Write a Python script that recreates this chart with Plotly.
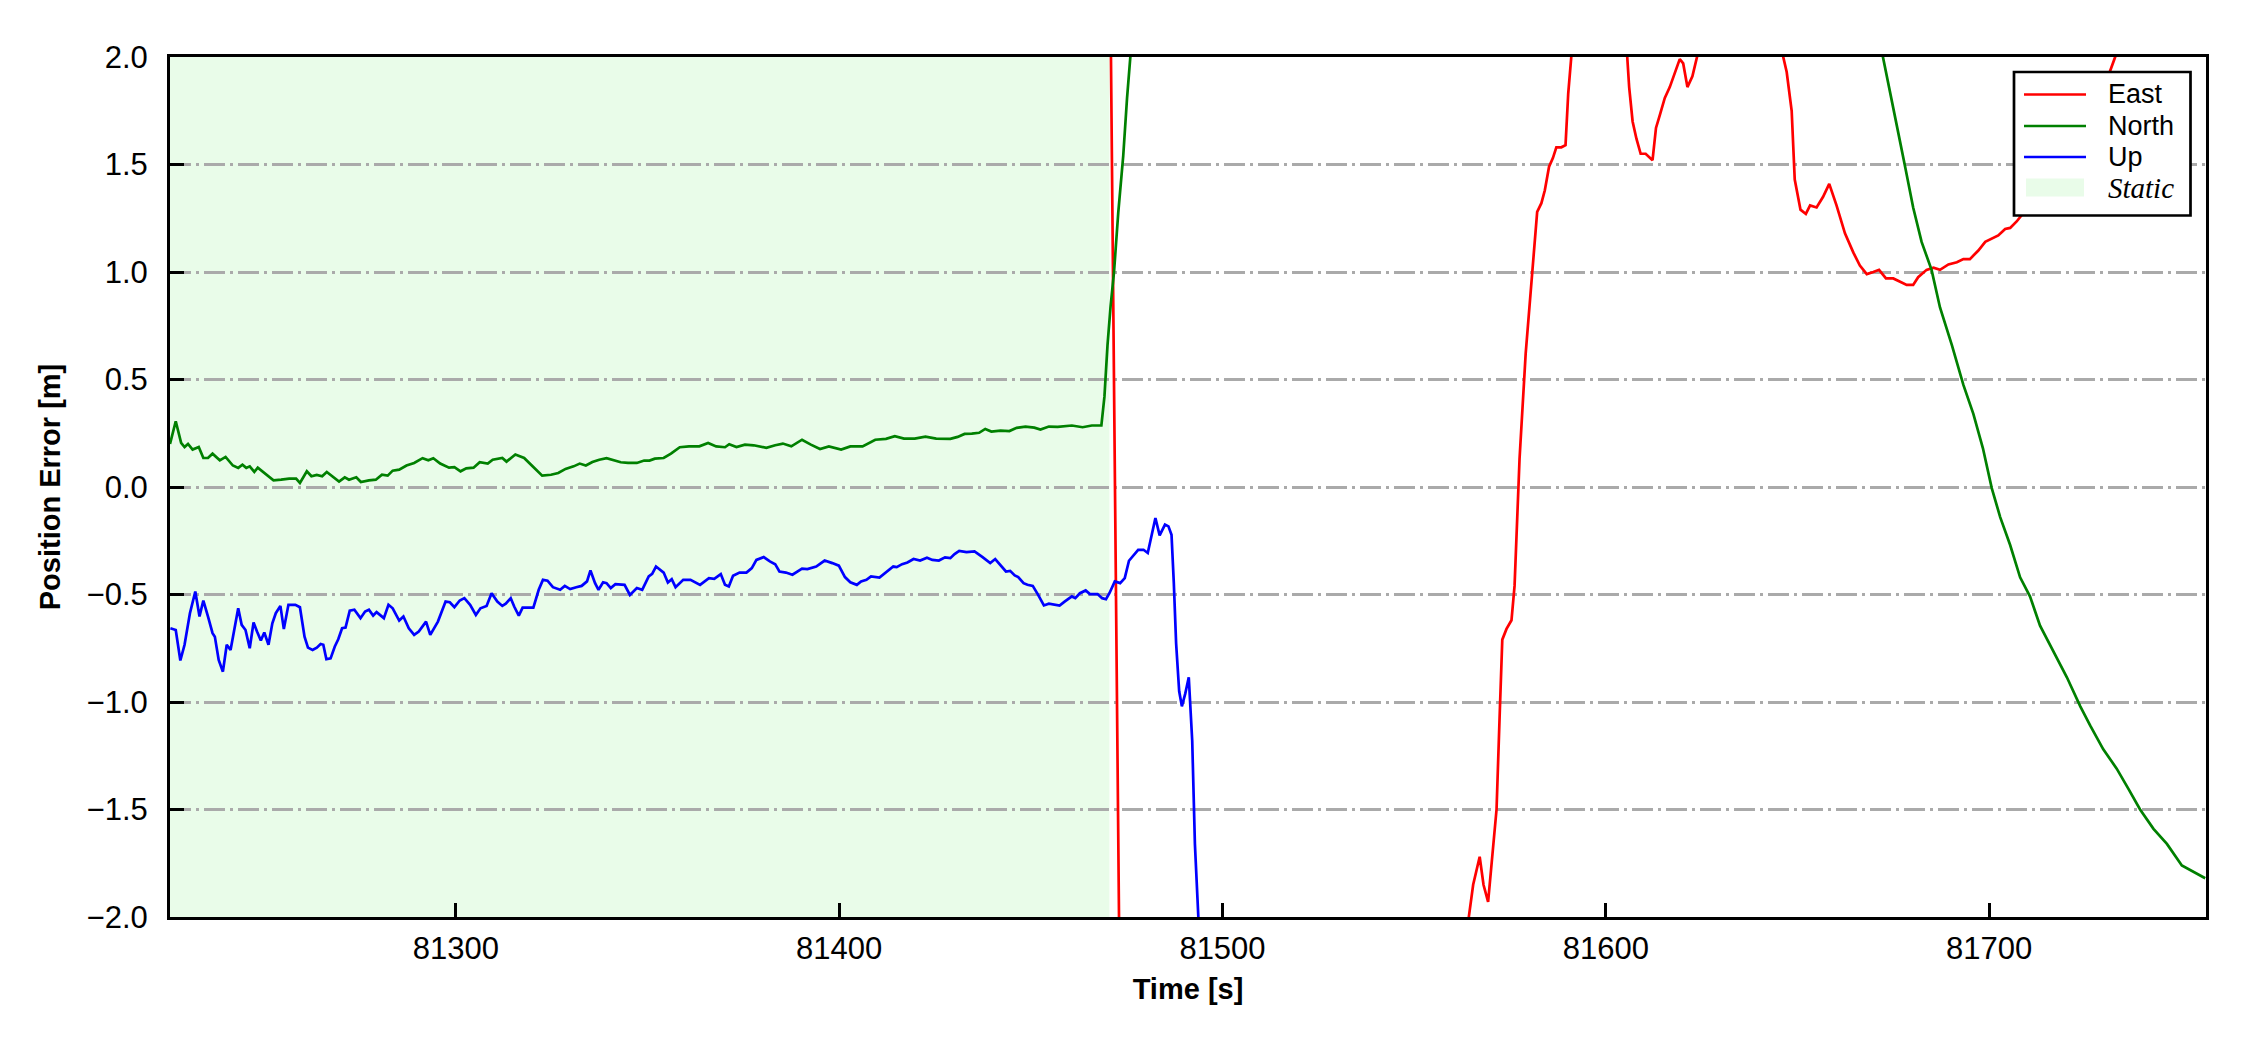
import plotly.graph_objects as go

# ---------------- data ----------------
north_t = [81225.4, 81226.9, 81228.3, 81229.2, 81230.1, 81231.3, 81232.9, 81234.1, 81235.3, 81236.5,
           81238.4, 81239.9, 81241.8, 81243.2, 81244.3, 81245.3, 81246.2, 81247.4, 81248.3, 81250.2,
           81252.4, 81254.4, 81256.5, 81258.3, 81259.3, 81261.1, 81262.3, 81263.7, 81265.1, 81266.3,
           81267.6, 81269.5, 81271.0, 81272.1, 81274.0, 81275.2, 81277.3, 81279.1, 81280.7, 81282.2,
           81283.5, 81285.2, 81287.1, 81289.1, 81291.3, 81292.8, 81294.1, 81295.9, 81298.2, 81299.6,
           81301.2, 81302.7, 81304.6, 81306.2, 81308.3, 81309.6, 81312.1, 81313.2, 81315.5, 81317.8,
           81320.2, 81322.5, 81324.8, 81326.7, 81328.6, 81330.7, 81332.3, 81333.9, 81335.6, 81337.4,
           81339.3, 81341.2, 81343.0, 81344.9, 81347.2, 81349.1, 81350.5, 81351.9, 81354.2, 81356.1,
           81358.4, 81360.8, 81363.5, 81365.8, 81367.9, 81370.2, 81371.3, 81373.2, 81375.4, 81377.7,
           81381.0, 81383.3, 81385.3, 81387.5, 81390.3, 81392.6, 81395.0, 81397.3, 81400.5, 81402.9,
           81406.1, 81409.4, 81412.2, 81414.5, 81416.9, 81419.7, 81422.5, 81425.3, 81429.0, 81430.9,
           81432.7, 81434.6, 81436.5, 81438.1, 81439.7, 81442.1, 81444.4, 81446.3, 81448.6, 81450.9,
           81452.5, 81454.7, 81457.0, 81460.7, 81463.5, 81465.9, 81468.4, 81469.2, 81470.0, 81470.8,
           81471.7, 81472.8, 81474.1, 81475.1, 81476.0, 81477.0, 81480.0, 81490.0, 81510.0, 81540.0,
           81570.0, 81600.0, 81630.0, 81650.0, 81660.0, 81668.0, 81672.4, 81674.2, 81676.0, 81678.1,
           81680.2, 81682.4, 81685.0, 81687.2, 81690.3, 81693.3, 81695.9, 81698.4, 81700.7, 81702.9,
           81705.5, 81708.1, 81710.7, 81713.3, 81716.8, 81720.3, 81723.8, 81726.4, 81729.8, 81733.3,
           81736.4, 81739.4, 81742.9, 81746.4, 81750.3, 81753.3, 81756.4]
north_v = [0.20, 0.306, 0.205, 0.186, 0.20, 0.174, 0.186, 0.135, 0.135, 0.155,
           0.124, 0.14, 0.10, 0.089, 0.104, 0.089, 0.096, 0.07, 0.09, 0.062,
           0.031, 0.034, 0.039, 0.039, 0.019, 0.073, 0.05, 0.056, 0.05, 0.07,
           0.053, 0.025, 0.045, 0.034, 0.045, 0.023, 0.031, 0.034, 0.057, 0.053,
           0.076, 0.081, 0.10, 0.112, 0.134, 0.124, 0.134, 0.109, 0.09, 0.092,
           0.073, 0.087, 0.09, 0.115, 0.109, 0.127, 0.135, 0.118, 0.151, 0.135,
           0.093, 0.053, 0.057, 0.065, 0.084, 0.096, 0.109, 0.10, 0.116, 0.127,
           0.134, 0.124, 0.115, 0.112, 0.112, 0.123, 0.123, 0.132, 0.135, 0.155,
           0.185, 0.189, 0.189, 0.205, 0.189, 0.185, 0.199, 0.186, 0.197, 0.194,
           0.182, 0.194, 0.202, 0.189, 0.22, 0.197, 0.177, 0.189, 0.174, 0.189,
           0.189, 0.22, 0.224, 0.236, 0.225, 0.225, 0.234, 0.225, 0.224, 0.233,
           0.247, 0.248, 0.252, 0.27, 0.258, 0.262, 0.26, 0.275, 0.281, 0.276,
           0.267, 0.281, 0.28, 0.286, 0.278, 0.286, 0.286, 0.42, 0.66, 0.84,
           1.0, 1.275, 1.54, 1.81, 2.0, 2.25, 2.9, 3.9, 4.7, 5.1,
           4.9, 4.3, 3.55, 3.0, 2.72, 2.38, 2.0, 1.835, 1.675, 1.49,
           1.30, 1.14, 1.01, 0.835, 0.66, 0.475, 0.34, 0.18, -0.005, -0.14,
           -0.27, -0.42, -0.51, -0.645, -0.765, -0.885, -1.02, -1.11, -1.22, -1.31,
           -1.405, -1.50, -1.59, -1.66, -1.76, -1.79, -1.82]

up_t = [81225.5, 81226.9, 81228.1, 81229.2, 81230.6, 81232.0, 81233.1, 81234.1, 81235.3, 81236.5,
        81237.1, 81238.1, 81239.2, 81240.2, 81241.2, 81242.1, 81243.2, 81244.1, 81245.1, 81246.2,
        81247.2, 81248.1, 81249.1, 81250.0, 81251.1, 81252.1, 81253.0, 81254.2, 81255.1, 81256.3,
        81258.1, 81259.3, 81260.5, 81261.4, 81262.6, 81263.7, 81264.7, 81265.4, 81266.2, 81267.3,
        81268.4, 81269.3, 81270.3, 81271.2, 81272.3, 81273.5, 81275.1, 81276.3, 81277.3, 81278.4,
        81279.3, 81281.2, 81282.4, 81283.5, 81285.2, 81286.3, 81287.7, 81289.1, 81290.3, 81292.2,
        81293.3, 81295.3, 81297.3, 81298.4, 81299.6, 81301.0, 81302.2, 81303.7, 81305.2, 81306.4,
        81308.0, 81309.3, 81310.8, 81312.1, 81313.0, 81314.3, 81315.2, 81316.4, 81317.4, 81320.2,
        81321.6, 81322.7, 81323.9, 81325.3, 81327.2, 81328.4, 81329.8, 81331.4, 81332.8, 81334.2,
        81335.1, 81336.3, 81337.2, 81338.4, 81339.3, 81340.4, 81341.6, 81344.0, 81345.4, 81347.2,
        81348.6, 81350.3, 81351.2, 81352.2, 81354.2, 81355.3, 81356.3, 81357.3, 81359.3, 81361.2,
        81362.6, 81363.7, 81366.0, 81367.4, 81369.1, 81370.2, 81371.2, 81372.3, 81374.0, 81375.8,
        81377.2, 81378.4, 81380.3, 81381.9, 81383.3, 81384.4, 81386.1, 81387.8, 81390.3, 81391.7,
        81394.0, 81396.2, 81398.2, 81399.9, 81401.5, 81402.9, 81404.6, 81405.7, 81407.1, 81408.3,
        81410.5, 81412.2, 81414.1, 81415.0, 81416.4, 81417.8, 81419.4, 81421.1, 81422.9, 81424.3,
        81426.0, 81427.6, 81429.0, 81430.1, 81431.3, 81433.2, 81435.3, 81437.4, 81439.4, 81440.7,
        81442.1, 81443.5, 81444.6, 81445.8, 81446.7, 81448.1, 81449.1, 81450.5, 81451.9, 81453.4,
        81454.7, 81456.1, 81457.5, 81458.8, 81460.7, 81461.6, 81462.8, 81464.3, 81465.4, 81467.4,
        81468.6, 81469.6, 81470.5, 81471.9, 81473.3, 81474.5, 81475.6, 81478.0, 81479.4, 81480.5,
        81481.4, 81482.5, 81483.6, 81485.0, 81485.9, 81486.7, 81487.3, 81487.9, 81488.7, 81489.4,
        81490.3, 81491.2, 81492.1, 81492.8, 81493.7, 81495.0, 81500.0, 81530.0, 81600.0, 81700.0,
        81757.0]
up_v = [-0.657, -0.665, -0.807, -0.734, -0.587, -0.486, -0.602, -0.528, -0.602, -0.68,
        -0.696, -0.804, -0.859, -0.734, -0.758, -0.665, -0.564, -0.641, -0.665, -0.75,
        -0.63, -0.672, -0.714, -0.677, -0.734, -0.634, -0.587, -0.553, -0.661, -0.548,
        -0.548, -0.559, -0.696, -0.747, -0.758, -0.747, -0.73, -0.734, -0.801, -0.797,
        -0.742, -0.708, -0.657, -0.654, -0.575, -0.571, -0.61, -0.579, -0.571, -0.598,
        -0.582, -0.61, -0.548, -0.564, -0.621, -0.602, -0.657, -0.688, -0.672, -0.626,
        -0.688, -0.626, -0.533, -0.536, -0.559, -0.528, -0.517, -0.548, -0.595, -0.564,
        -0.553, -0.494, -0.533, -0.553, -0.543, -0.517, -0.556, -0.598, -0.561, -0.561,
        -0.478, -0.432, -0.436, -0.466, -0.478, -0.46, -0.475, -0.466, -0.46, -0.439,
        -0.388, -0.447, -0.478, -0.443, -0.447, -0.47, -0.452, -0.455, -0.502, -0.47,
        -0.478, -0.416, -0.404, -0.37, -0.398, -0.444, -0.429, -0.466, -0.432, -0.432,
        -0.443, -0.455, -0.424, -0.427, -0.405, -0.455, -0.463, -0.413, -0.398, -0.398,
        -0.377, -0.339, -0.326, -0.346, -0.359, -0.393, -0.398, -0.408, -0.38, -0.382,
        -0.37, -0.342, -0.354, -0.366, -0.419, -0.443, -0.455, -0.439, -0.432, -0.416,
        -0.421, -0.398, -0.37, -0.373, -0.359, -0.351, -0.335, -0.342, -0.329, -0.339,
        -0.342, -0.327, -0.331, -0.312, -0.297, -0.303, -0.30, -0.326, -0.354, -0.335,
        -0.366, -0.393, -0.39, -0.411, -0.419, -0.447, -0.455, -0.46, -0.502, -0.551,
        -0.543, -0.548, -0.551, -0.533, -0.509, -0.517, -0.494, -0.481, -0.498, -0.498,
        -0.517, -0.522, -0.494, -0.439, -0.447, -0.424, -0.343, -0.292, -0.292, -0.307,
        -0.238, -0.144, -0.225, -0.175, -0.183, -0.222, -0.447, -0.727, -0.95, -1.02,
        -0.96, -0.885, -1.18, -1.66, -2.0, -2.5, -3.2, -4.1, -4.6, -4.9,
        -5.0]

east_t = [81470.6, 81473.3, 81480.0, 81500.0, 81530.0, 81555.0, 81562.0, 81564.3, 81565.4, 81567.1,
          81568.1, 81569.3, 81570.2, 81571.5, 81572.3, 81573.0, 81574.1, 81575.4, 81576.2, 81577.5,
          81579.1, 81580.2, 81581.2, 81582.1, 81583.2, 81584.1, 81585.2, 81586.2, 81587.1, 81588.4,
          81589.5, 81590.2, 81591.0, 81592.5, 81598.0, 81603.5, 81605.6, 81606.1, 81607.0, 81608.0,
          81609.1, 81610.4, 81612.2, 81613.1, 81614.1, 81615.4, 81616.7, 81618.0, 81619.3, 81620.2,
          81621.3, 81622.6, 81623.8, 81626.0, 81635.0, 81643.5, 81646.3, 81647.2, 81648.5, 81649.3,
          81650.8, 81652.2, 81653.3, 81655.0, 81656.7, 81658.3, 81660.2, 81662.4, 81664.6, 81666.3,
          81668.1, 81669.8, 81671.3, 81673.1, 81675.0, 81676.8, 81678.5, 81680.2, 81681.5, 81683.7,
          81685.5, 81687.2, 81689.4, 81691.6, 81693.3, 81695.0, 81697.2, 81699.0, 81700.7, 81702.4,
          81704.2, 81705.5, 81707.2, 81708.5, 81712.0, 81716.0, 81720.0, 81724.0, 81728.0, 81731.6,
          81732.9, 81736.0, 81745.0, 81757.0]
east_v = [2.57, -2.57, -3.4, -4.1, -3.9, -2.9, -2.3, -2.0, -1.85, -1.72,
          -1.85, -1.93, -1.74, -1.5, -1.07, -0.71, -0.66, -0.62, -0.46, 0.13,
          0.62, 0.85, 1.07, 1.28, 1.32, 1.38, 1.49, 1.53, 1.58, 1.58,
          1.59, 1.83, 2.0, 2.25, 2.5, 2.3, 2.0, 1.86, 1.70, 1.62,
          1.55, 1.55, 1.52, 1.67, 1.73, 1.81, 1.86, 1.93, 1.99, 1.97,
          1.86, 1.91, 2.0, 2.3, 2.6, 2.3, 2.0, 1.93, 1.75, 1.43,
          1.29, 1.27, 1.31, 1.30, 1.35, 1.41, 1.31, 1.18, 1.09, 1.03,
          0.99, 1.0, 1.01, 0.97, 0.97, 0.955, 0.94, 0.94, 0.976, 1.01,
          1.02, 1.01, 1.035, 1.045, 1.06, 1.06, 1.10, 1.14, 1.155, 1.17,
          1.20, 1.205, 1.235, 1.264, 1.32, 1.40, 1.50, 1.62, 1.76, 1.93,
          2.0, 2.2, 2.5, 2.8]

static_start = 81220.0
static_end = 81470.5

x_range = [81225.4, 81756.6]
y_range = [-2.0, 2.0]
x_tick_vals = [81300, 81400, 81500, 81600, 81700]
x_tick_labels = ["81300", "81400", "81500", "81600", "81700"]
y_tick_vals = [-2.0, -1.5, -1.0, -0.5, 0.0, 0.5, 1.0, 1.5, 2.0]
y_tick_labels = ["\u22122.0", "\u22121.5", "\u22121.0", "\u22120.5", "0.0", "0.5", "1.0", "1.5", "2.0"]

legend_names = ["East", "North", "Up", "Static"]

# ---------------- styling ----------------
SANS = "Liberation Sans, Arial, sans-serif"
SERIF = "Liberation Serif, Times New Roman, serif"
STATIC_FILL = "#e9fce9"
COLORS = {"East": "#ff0000", "North": "#008000", "Up": "#0000ff"}

# plot area in page pixels (page body has an 8px margin)
PL, PR, PT, PB = 170, 2206, 57, 917


def px(xp):
    return (xp - PL) / (PR - PL)


def py(yp):
    return (PB - yp) / (PB - PT)


fig = go.Figure()
for name, t, v in (("East", east_t, east_v), ("North", north_t, north_v), ("Up", up_t, up_v)):
    fig.add_trace(go.Scatter(x=t, y=v, mode="lines", name=name, showlegend=False,
                             line=dict(color=COLORS[name], width=2.7)))

fig.add_vrect(x0=static_start, x1=static_end, fillcolor=STATIC_FILL, line_width=0,
              layer="below", opacity=1)

# ---- legend (drawn as a boxed key in the upper right) ----
shapes = []
annotations = []
shapes.append(dict(type="rect", xref="paper", yref="paper", layer="above",
                   x0=px(2014), x1=px(2190.5), y0=py(215.5), y1=py(72),
                   fillcolor="white", line=dict(color="black", width=2.7)))
row_y = [94.5, 126, 157, 187.5]
for i, name in enumerate(legend_names):
    yc = row_y[i]
    if name in COLORS:
        shapes.append(dict(type="line", xref="paper", yref="paper", layer="above",
                           x0=px(2024), x1=px(2086), y0=py(yc), y1=py(yc),
                           line=dict(color=COLORS[name], width=2.7)))
        label = name
        font = dict(family=SANS, size=27, color="black")
    else:
        shapes.append(dict(type="rect", xref="paper", yref="paper", layer="above",
                           x0=px(2026), x1=px(2084), y0=py(yc + 9), y1=py(yc - 9),
                           fillcolor=STATIC_FILL, line=dict(width=0)))
        label = "<i>" + name + "</i>"
        font = dict(family=SERIF, size=29, color="black")
    annotations.append(dict(xref="paper", yref="paper", x=px(2107), y=py(yc),
                            xanchor="left", yanchor="middle", showarrow=False,
                            text=label, font=font, borderpad=0))

fig.update_layout(
    width=2242, height=1042,
    margin=dict(l=162, r=44, t=49, b=133),
    paper_bgcolor="white", plot_bgcolor="white",
    font=dict(family=SANS, size=31, color="black"),
    showlegend=False,
    shapes=list(fig.layout.shapes) + shapes,
    annotations=annotations,
)
fig.update_xaxes(range=x_range, tickmode="array", tickvals=x_tick_vals, ticktext=x_tick_labels,
                 ticks="inside", ticklen=14, tickwidth=2.5, tickcolor="black",
                 showline=True, linecolor="black", linewidth=3, mirror=True,
                 showgrid=False, zeroline=False, ticklabelstandoff=2,
                 tickfont=dict(family=SANS, size=31),
                 title=dict(text="<b>Time [s]</b>", font=dict(family=SANS, size=29), standoff=14))
fig.update_yaxes(range=y_range, tickmode="array", tickvals=y_tick_vals, ticktext=y_tick_labels,
                 ticks="inside", ticklen=14, tickwidth=2.5, tickcolor="black",
                 showline=True, linecolor="black", linewidth=3, mirror=True,
                 showgrid=True, gridcolor="#aaaaaa", gridwidth=2.6, griddash="21px,5px,3px,5px",
                 zeroline=False, ticklabelstandoff=13,
                 tickfont=dict(family=SANS, size=31),
                 title=dict(text="<b>Position Error [m]</b>", font=dict(family=SANS, size=29), standoff=18))

fig.write_html("out.html")
